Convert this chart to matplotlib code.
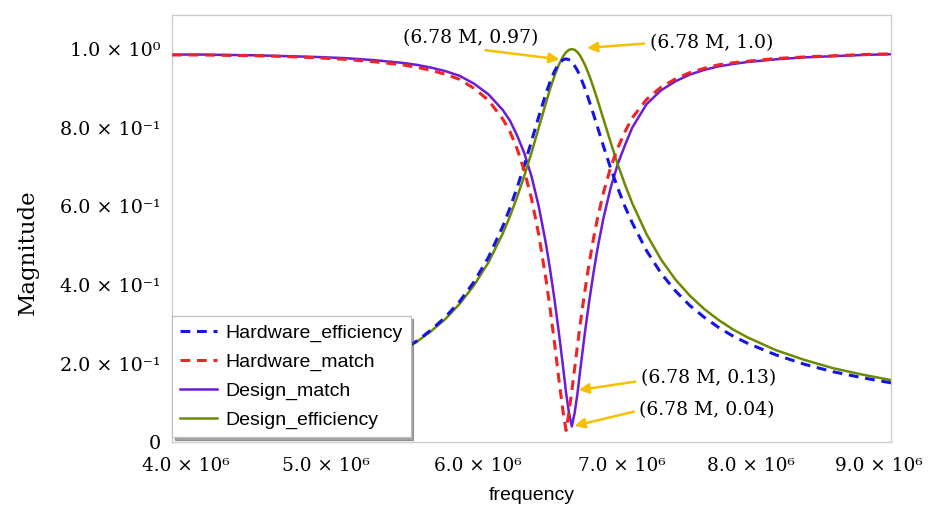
import matplotlib
matplotlib.use("Agg")
import matplotlib.pyplot as plt
import matplotlib.transforms as mtransforms
import numpy as np

# sweep points, MHz
freq_mhz = [4.0, 4.2, 4.4, 4.6, 4.8, 5.0, 5.2, 5.4, 5.6, 5.7, 5.8, 5.9, 6.0, 6.1,
            6.2, 6.3, 6.35, 6.4, 6.45, 6.5, 6.55, 6.6, 6.63, 6.66, 6.69, 6.72, 6.74,
            6.76, 6.78, 6.8, 6.82, 6.84, 6.87, 6.9, 6.93, 6.96, 7.0, 7.05, 7.1, 7.15,
            7.2, 7.3, 7.4, 7.5, 7.6, 7.7, 7.8, 7.9, 8.0, 8.2, 8.4, 8.6, 8.8, 9.0]

hardware_efficiency = [0.082, 0.091, 0.102, 0.114, 0.129, 0.146, 0.169, 0.197, 0.234, 0.257,
                       0.285, 0.318, 0.358, 0.408, 0.470, 0.549, 0.596, 0.648, 0.705, 0.766,
                       0.828, 0.887, 0.918, 0.944, 0.963, 0.973, 0.975, 0.973, 0.970, 0.957,
                       0.945, 0.929, 0.901, 0.869, 0.835, 0.800, 0.753, 0.697, 0.646, 0.599,
                       0.558, 0.487, 0.430, 0.385, 0.348, 0.318, 0.292, 0.270, 0.252, 0.222,
                       0.198, 0.179, 0.164, 0.151]
hardware_match = [0.985, 0.985, 0.984, 0.983, 0.981, 0.978, 0.974, 0.968, 0.960, 0.954,
                  0.946, 0.936, 0.923, 0.900, 0.870, 0.822, 0.790, 0.746, 0.690, 0.619,
                  0.528, 0.415, 0.337, 0.251, 0.160, 0.075, 0.030, 0.075, 0.130, 0.189,
                  0.248, 0.305, 0.383, 0.454, 0.517, 0.572, 0.635, 0.699, 0.749, 0.790,
                  0.825, 0.872, 0.903, 0.924, 0.940, 0.951, 0.960, 0.965, 0.969, 0.976,
                  0.980, 0.983, 0.986, 0.988]
design_match = [0.986, 0.986, 0.985, 0.984, 0.982, 0.980, 0.977, 0.972, 0.965, 0.960,
                0.953, 0.944, 0.932, 0.912, 0.885, 0.845, 0.818, 0.780, 0.735, 0.676,
                0.600, 0.505, 0.437, 0.362, 0.279, 0.189, 0.126, 0.075, 0.040, 0.075,
                0.126, 0.188, 0.276, 0.356, 0.429, 0.495, 0.570, 0.647, 0.708, 0.756,
                0.800, 0.860, 0.895, 0.918, 0.935, 0.947, 0.956, 0.962, 0.967, 0.974,
                0.979, 0.982, 0.985, 0.987]
design_efficiency = [0.083, 0.092, 0.103, 0.115, 0.130, 0.147, 0.169, 0.197, 0.233, 0.255,
                     0.282, 0.313, 0.352, 0.399, 0.457, 0.531, 0.575, 0.624, 0.678, 0.737,
                     0.800, 0.863, 0.900, 0.932, 0.960, 0.982, 0.992, 0.998, 1.000, 0.998,
                     0.992, 0.982, 0.961, 0.934, 0.903, 0.869, 0.822, 0.763, 0.706, 0.655,
                     0.608, 0.529, 0.465, 0.414, 0.373, 0.339, 0.311, 0.287, 0.267, 0.234,
                     0.209, 0.188, 0.172, 0.158]

x_ticks = [4.0e6, 5.0e6, 6.0e6, 7.0e6, 8.0e6, 9.0e6]
x_labels = ["4.0 × 10⁶", "5.0 × 10⁶", "6.0 × 10⁶", "7.0 × 10⁶", "8.0 × 10⁶", "9.0 × 10⁶"]
y_ticks = [0.0, 0.2, 0.4, 0.6, 0.8, 1.0]
y_labels = ["0", "2.0 × 10⁻¹", "4.0 × 10⁻¹", "6.0 × 10⁻¹", "8.0 × 10⁻¹", "1.0 × 10⁰"]

serif = ["DejaVu Serif"]
sans = ["Liberation Sans", "DejaVu Sans"]
gold = "#f5c000"

freq = np.array(freq_mhz) * 1e6

fig = plt.figure(figsize=(9.35, 5.13), dpi=100)
ax = fig.add_axes([0.184, 0.138, 0.769, 0.833])

ax.plot(freq, hardware_efficiency, color="#1414e6", lw=2.2, ls=(0, (3.2, 2.2)),
        label="Hardware_efficiency", zorder=3)
ax.plot(freq, hardware_match, color="#f02424", lw=2.2, ls=(0, (3.2, 2.2)),
        label="Hardware_match", zorder=3)
ax.plot(freq, design_match, color="#6a1cd8", lw=1.8, label="Design_match", zorder=2)
ax.plot(freq, design_efficiency, color="#6b8a00", lw=1.8, label="Design_efficiency", zorder=2)

ax.set_xlim(4.0e6, 9.0e6)
ax.set_ylim(0, 1.087)
ax.set_xticks(x_ticks)
ax.set_xticklabels(x_labels, family=serif, fontsize=13.3)
ax.set_yticks(y_ticks)
ax.set_yticklabels(y_labels, family=serif, fontsize=13.8)
ax.tick_params(axis="x", length=0, pad=11)
ax.tick_params(axis="y", length=0, pad=8)
for s in ax.spines.values():
    s.set_color("#cccccc")
    s.set_linewidth(1.0)

# nudge the x tick labels sideways (pixels) so the end ones stay on the canvas
x_nudge = [14, 10, 18, 18, 4, -12]
for lbl, dx in zip(ax.get_xticklabels(), x_nudge):
    lbl.set_transform(lbl.get_transform() + mtransforms.ScaledTranslation(dx / 100, 0, fig.dpi_scale_trans))

ax.set_ylabel("Magnitude", family=serif, fontsize=16.5)
ax.yaxis.set_label_coords(-0.185, 0.444)
ax.set_xlabel("frequency", family=sans, fontsize=14, labelpad=8)

arrow = dict(arrowstyle="-|>", color=gold, lw=1.8, mutation_scale=15)
notes = [
    ("(6.78 M, 0.97)", 6.78e6, 0.97, 6.08e6, 1.028, (0.42, 0.0), 9),
    ("(6.78 M, 1.0)", 6.78e6, 1.0, 7.75e6, 1.015, (0.0, 0.5), 11),
    ("(6.78 M, 0.13)", 6.78e6, 0.13, 7.73e6, 0.163, (0.0, 0.35), 5),
    ("(6.78 M, 0.04)", 6.78e6, 0.04, 7.72e6, 0.081, (0.0, 0.5), 2),
]
for text, x, y, tx, ty, rel, shrink in notes:
    props = dict(arrow, relpos=rel, shrinkA=2, shrinkB=shrink)
    ax.annotate(text, xy=(x, y), xytext=(tx, ty), ha="center", va="center",
                family=serif, fontsize=13.5, arrowprops=props, zorder=5)

leg = ax.legend(loc="lower left", bbox_to_anchor=(0.0, 0.012), borderaxespad=0,
                prop={"family": sans, "size": 14}, frameon=True, fancybox=False,
                shadow=True, edgecolor="#bbbbbb", framealpha=1.0,
                handlelength=1.9, handletextpad=0.45, labelspacing=0.58,
                borderpad=0.4)
leg.get_frame().set_linewidth(0.8)

fig.savefig("out.png", dpi=100)
